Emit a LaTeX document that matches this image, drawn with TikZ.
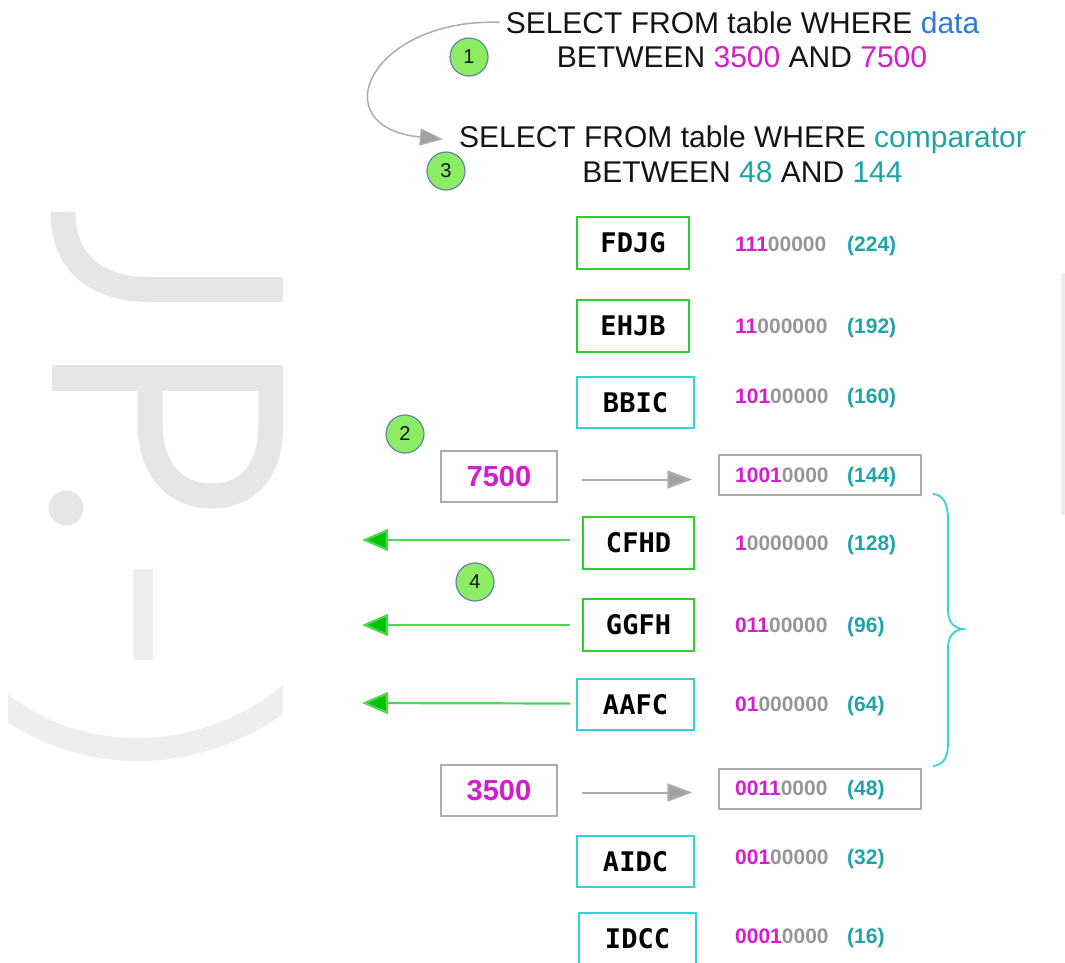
\documentclass[tikz,border=0pt]{standalone}
\usepackage{fontspec}
\setmainfont{Liberation Sans}
\newfontfamily\codefont{DejaVu Sans Mono}
\usetikzlibrary{arrows.meta}

\definecolor{qmag}{RGB}{214,28,204}
\definecolor{qteal}{RGB}{30,164,168}
\definecolor{qblue}{RGB}{42,124,214}
\definecolor{qgray}{RGB}{150,150,150}
\definecolor{qtext}{RGB}{20,20,20}
\definecolor{boxgreen}{RGB}{50,205,50}
\definecolor{boxcyan}{RGB}{50,212,216}
\definecolor{arrgreen}{RGB}{0,196,0}
\definecolor{linegreen}{RGB}{80,215,80}
\definecolor{framegray}{RGB}{172,172,172}
\definecolor{tipgray}{RGB}{160,160,160}
\definecolor{stepfill}{RGB}{140,236,100}
\definecolor{stepline}{RGB}{100,130,175}
\definecolor{wmdark}{RGB}{230,230,230}
\definecolor{wmlight}{RGB}{238,238,238}

\newcommand\bitpair[2]{\textcolor{qmag}{#1}\textcolor{qgray}{#2}}

\tikzset{
  keybox/.style={draw, line width=1.6pt, fill=white, inner sep=0pt,
    minimum width=112pt, minimum height=52pt,
    font=\codefont\bfseries\fontsize{27}{30}\selectfont, text=black},
  gkey/.style={keybox, draw=boxgreen},
  ckey/.style={keybox, draw=boxcyan, minimum width=117pt, minimum height=51pt},
  bits/.style={anchor=base west, inner sep=0pt,
    font=\bfseries\fontsize{21}{24}\selectfont},
  dec/.style={bits, text=qteal},
  stepnum/.style={circle, draw=stepline, line width=1.2pt, fill=stepfill,
    minimum size=38pt, inner sep=0pt, text=qtext,
    font=\fontsize{20}{24}\selectfont},
  valbox/.style={draw=framegray, line width=2pt, inner sep=0pt,
    minimum width=116pt, minimum height=51pt, text=qmag,
    font=\bfseries\fontsize{29}{32}\selectfont},
  hitbox/.style={draw=framegray, line width=1.5pt, inner sep=0pt,
    minimum width=202pt, minimum height=40pt},
  query/.style={anchor=base, inner sep=0pt, text=qtext,
    font=\fontsize{30}{36}\selectfont},
  grayarrow/.style={draw=framegray, line width=2pt,
    -{Triangle[length=25pt, width=18pt, fill=tipgray]}},
  greenarrow/.style={draw=linegreen, line width=2.2pt,
    -{Triangle[length=26pt, width=22pt, fill=arrgreen]}},
}

\begin{document}
\begin{tikzpicture}[x=1pt, y=-1pt]
\useasboundingbox (0,0) rectangle (1065,962);

% faint watermark on the left
\begin{scope}
  \clip (8,0) rectangle (283,962);
  \draw[wmdark, line width=25pt] (63,212) .. controls (63,262) and (95,289.5) .. (150,289.5) -- (300,289.5);
  \draw[wmdark, line width=26pt] (52,378) -- (300,378);
  \draw[wmdark, line width=25pt] (150,378) -- (150,422) .. controls (150,475) and (180,496) .. (211,496)
    .. controls (245,496) and (271,475) .. (271,422) -- (271,378);
  \fill[wmdark] (66,508) circle (17.5);
  \fill[wmlight] (133,569) rectangle (153,660);
  \draw[wmlight, line width=23pt] (-12,692) .. controls (70,768) and (202,770) .. (295,690);
\end{scope}
\fill[wmlight] (1061,273) rectangle (1065,515);

% queries
\node[query] (q1a) at (742.5,33) {SELECT FROM table WHERE \textcolor{qblue}{data}};
\node[query] (q1b) at (742,67) {BETWEEN \textcolor{qmag}{3500} AND \textcolor{qmag}{7500}};
\node[query] (q3a) at (742.5,147) {SELECT FROM table WHERE \textcolor{qteal}{comparator}};
\node[query] (q3b) at (742.5,182) {BETWEEN \textcolor{qteal}{48} AND \textcolor{qteal}{144}};

\draw[draw=framegray, line width=1.5pt, -{Triangle[length=23pt, width=17pt, fill=tipgray]}]
  ([xshift=-6pt]q1a.west) .. controls +(-130,-4) and +(-122,-12) .. ([xshift=-16pt]q3a.west);

% step markers
\node[stepnum] (s1) at (469,57) {1};
\node[stepnum] (s3) at (446,171) {3};
\node[stepnum] (s2) at (405,434) {2};
\node[stepnum] (s4) at (475,582) {4};

% index keys
\node[gkey] (kFDJG) at (633,243) {FDJG};
\node[gkey] (kEHJB) at (633,326) {EHJB};
\node[ckey] (kBBIC) at (635.5,402.5) {BBIC};
\node[gkey, minimum width=111pt] (kCFHD) at (638.5,543) {CFHD};
\node[gkey, minimum width=111pt] (kGGFH) at (638.5,625) {GGFH};
\node[ckey] (kAAFC) at (635.5,704.5) {AAFC};
\node[ckey] (kAIDC) at (635.5,861.5) {AIDC};
\node[ckey] (kIDCC) at (637.5,938.5) {IDCC};

% range bounds and their encoded values
\node[valbox] (v7500) at (499,476.5) {7500};
\node[valbox] (v3500) at (499,790.5) {3500};
\node[hitbox] (h144) at (820,475) {};
\node[hitbox] (h48) at (820,789) {};

% comparator column
\node[bits] (b224) at (735,251.5) {\bitpair{111}{00000}};
\node[dec]  (d224) at (847,251.5) {(224)};
\node[bits] (b192) at (735,333.5) {\bitpair{11}{000000}};
\node[dec]  (d192) at (847,333.5) {(192)};
\node[bits] (b160) at (735,403.5) {\bitpair{101}{00000}};
\node[dec]  (d160) at (847,403.5) {(160)};
\node[bits] (b144) at (735,482.5) {\bitpair{1001}{0000}};
\node[dec]  (d144) at (847,482.5) {(144)};
\node[bits] (b128) at (735,550.5) {\bitpair{1}{0000000}};
\node[dec]  (d128) at (847,550.5) {(128)};
\node[bits] (b96)  at (735,632.5) {\bitpair{011}{00000}};
\node[dec]  (d96)  at (847,632.5) {(96)};
\node[bits] (b64)  at (735,711.5) {\bitpair{01}{000000}};
\node[dec]  (d64)  at (847,711.5) {(64)};
\node[bits] (b48)  at (735,795.5) {\bitpair{0011}{0000}};
\node[dec]  (d48)  at (847,795.5) {(48)};
\node[bits] (b32)  at (735,864.5) {\bitpair{001}{00000}};
\node[dec]  (d32)  at (847,864.5) {(32)};
\node[bits] (b16)  at (735,943.5) {\bitpair{0001}{0000}};
\node[dec]  (d16)  at (847,943.5) {(16)};

% bound mapping arrows
\draw[grayarrow, shorten <=24pt, shorten >=26pt] ([yshift=-3pt]v7500.east) -- ([yshift=-3pt]v7500.east -| h144.west);
\draw[grayarrow, shorten <=24pt, shorten >=26pt] ([yshift=-2pt]v3500.east) -- ([yshift=-2pt]v3500.east -| h48.west);

% rows returned by the scan
\coordinate (o1) at (362,540);
\coordinate (o2) at (362,625);
\coordinate (o3) at (362,703);
\draw[greenarrow] ([xshift=-12pt, yshift=3pt]kCFHD.west) -- (o1);
\draw[greenarrow] ([xshift=-12pt]kGGFH.west) -- (o2);
\draw[greenarrow] ([xshift=-6pt, yshift=1pt]kAAFC.west) -- (o3);

% brace over the selected range
\draw[boxcyan, line width=1.8pt]
  (933,494) .. controls (943,495) and (948,503) .. (948,520) -- (948,610)
  .. controls (948,621) and (953,628) .. (963,629)
  .. controls (953,630) and (948,637) .. (948,648) -- (948,743)
  .. controls (948,758) and (943,765) .. (933,766);
\end{tikzpicture}
\end{document}
